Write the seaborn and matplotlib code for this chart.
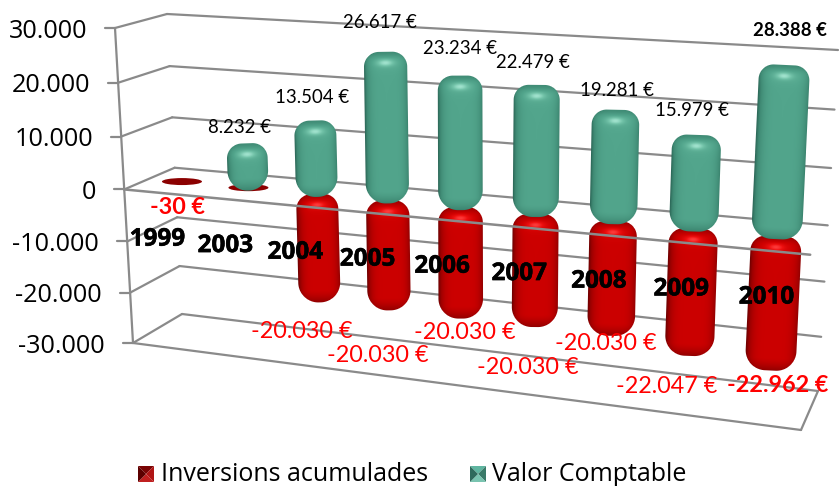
import numpy as np
import matplotlib
matplotlib.use("Agg")
import matplotlib.pyplot as plt
import matplotlib.patheffects as pe
from matplotlib.patches import Ellipse
import seaborn as sns

years = ["1999", "2003", "2004", "2005", "2006", "2007", "2008", "2009", "2010"]
inversions = [-30, -30, -20030, -20030, -20030, -20030, -20030, -22047, -22962]
valor = [0, 8232, 13504, 26617, 23234, 22479, 19281, 15979, 28388]
ticks = [30000, 20000, 10000, 0, -10000, -20000, -30000]
tick_labels = ["30.000", "20.000", "10.000", "0", "-10.000", "-20.000", "-30.000"]

inv_labels = ["-30 €", None, "-20.030 €", "-20.030 €", "-20.030 €", "-20.030 €", "-20.030 €", "-22.047 €", "-22.962 €"]
val_labels = [None, "8.232 €", "13.504 €", "26.617 €", "23.234 €", "22.479 €", "19.281 €", "15.979 €", "28.388 €"]
# label centres were moved by hand in the original
inv_label_xy = [(177, 207), None, (302, 331), (378, 355), (465, 332), (528, 367), (606, 343), (667, 386), (778, 385)]
val_label_xy = [None, (240, 127), (312, 97), (380, 22), (460, 49), (533, 62), (617, 90), (692, 110), (790, 31)]

W, H = 839, 486
GRID = "#8a8a8a"
FONT = "Lato"

sns.set_theme(style="white")
plt.rcParams["font.family"] = [FONT, "DejaVu Sans"]

green_cmap = sns.blend_palette(["#24584b", "#3f8a74", "#52a58c", "#74c4aa", "#a6e6d2"], as_cmap=True)
red_cmap = sns.blend_palette(["#5a0000", "#9c0000", "#cc0000", "#ee1010", "#ff4040"], as_cmap=True)


def homography(src, dst):
    A, b = [], []
    for (x, y), (u, v) in zip(src, dst):
        A.append([x, y, 1, 0, 0, 0, -u * x, -u * y])
        A.append([0, 0, 0, x, y, 1, -v * x, -v * y])
        b += [u, v]
    return np.append(np.linalg.solve(np.array(A, float), np.array(b, float)), 1).reshape(3, 3)


unit = [(0, 1), (0, -1), (1, 1), (1, -1)]
FRONT = homography(unit, [(115, 28), (133, 343), (820, 69), (801, 430)])
BACK = homography(unit, [(167, 14), (182, 314), (838, 50), (818, 391)])


def wall(M, s, v):
    p = M @ np.array([s, v / 30000, 1.0])
    return p[:2] / p[2]


def project(s, v, depth=0.5):
    return (1 - depth) * wall(FRONT, s, v) + depth * wall(BACK, s, v)


def seg(ax, a, b, lw=1.6, z=1):
    sns.lineplot(x=[a[0], b[0]], y=[a[1], b[1]], ax=ax, color=GRID, linewidth=lw,
                 sort=False, errorbar=None, zorder=z, legend=False)


def capsule(ax, top, bottom, w, cmap, z):
    # shaded rounded cylinder, computed per pixel along the column axis
    L = np.hypot(*(bottom - top))
    e = (bottom - top) / L
    n = np.array([e[1], -e[0]])
    x0, x1 = int(min(top[0], bottom[0]) - w - 3), int(max(top[0], bottom[0]) + w + 4)
    y0, y1 = int(top[1] - 3), int(bottom[1] + 4)
    xx, yy = np.meshgrid(np.arange(x0, x1) + 0.5, np.arange(y0, y1) + 0.5)
    dx, dy = xx - top[0], yy - top[1]
    t = dx * e[0] + dy * e[1]
    u = -(dx * n[0] + dy * n[1])
    # bottom corners are rounder than the top ones
    r = np.where(t < L / 2, min(15, L / 2), min(20, L / 2))
    qx = np.abs(u) - (w - r)
    qy = np.abs(t - L / 2) - (L / 2 - r)
    d = np.hypot(np.maximum(qx, 0), np.maximum(qy, 0)) + np.minimum(np.maximum(qx, qy), 0) - r
    U = np.clip(u / w, -1, 1)
    shade = 0.5 - 0.30 * np.abs(U) ** 5 - 0.14 * np.clip(U, 0, 1) ** 3
    shade += 0.42 * np.exp(-((u / 8) ** 2 + ((t - 11) / 3.5) ** 2))
    shade -= 0.24 * np.exp(-((t / 5) ** 2))
    shade += 0.05 * np.exp(-(((t - 11) / 9) ** 2))
    shade -= 0.30 * np.clip(1 - (L - t) / 13, 0, 1) ** 1.5
    img = cmap(np.clip(shade, 0, 1))
    img[..., 3] = np.clip(0.5 - d, 0, 1)
    ax.imshow(img, extent=(x0, x1, y1, y0), aspect="auto", zorder=z, interpolation="nearest")


def pyramid(ax, x, y, size, colors):
    c = (x + size / 2, y + size / 2)
    corners = [(x, y), (x + size, y), (x + size, y + size), (x, y + size)]
    for i, col in enumerate(colors):
        tri = [corners[i], corners[(i + 1) % 4], c]
        ax.fill([p[0] for p in tri], [p[1] for p in tri], color=col, lw=0, zorder=5)


fig = plt.figure(figsize=(W / 100, H / 100), dpi=100)
ax = fig.add_axes([0, 0, 1, 1])

# walls and floor
for v, lab in zip(ticks, tick_labels):
    f, bl, br = wall(FRONT, 0, v), wall(BACK, 0, v), wall(BACK, 1, v)
    seg(ax, f, bl)
    seg(ax, bl, br)
    seg(ax, f - [10, 0], f)
    ax.text(f[0] - 28, f[1] + 3, lab, ha="right", va="center", fontsize=18.2,
            family="Open Sans", color="black", zorder=6)
seg(ax, wall(FRONT, 0, 30000), wall(FRONT, 0, -30000))
seg(ax, wall(FRONT, 0, -30000), wall(FRONT, 1, -30000))
seg(ax, wall(FRONT, 1, -30000), wall(BACK, 1, -30000))

n_cat = len(years)
# red columns, then the zero axis, then the green ones
for i, v in enumerate(inversions):
    s = (i + 0.5) / n_cat
    base = project(s, 0)
    if abs(v) < 1000:
        ax.add_patch(Ellipse(base, 40, 7, color="#8b0000", lw=0, zorder=2))
    else:
        w = np.hypot(*(project(s + 0.3 / n_cat, 0) - project(s - 0.3 / n_cat, 0))) / 2
        capsule(ax, base, project(s, v) + [0, 4], w, red_cmap, 2)

seg(ax, wall(FRONT, 0, 0), wall(FRONT, 1, 0), lw=1.8, z=3)
for i in range(1, n_cat + 1):
    p = wall(FRONT, i / n_cat, 0)
    seg(ax, p, p + [0, 8], lw=2, z=3)

for i, v in enumerate(valor):
    if v == 0:
        continue
    s = (i + 0.5) / n_cat
    w = np.hypot(*(project(s + 0.3 / n_cat, 0) - project(s - 0.3 / n_cat, 0))) / 2
    capsule(ax, project(s, v) - [0, 1], project(s, 0) + [0, 3], w, green_cmap, 4)

# texts
for i, y in enumerate(years):
    p = wall(FRONT, (i + 0.5) / n_cat, 0)
    ax.text(p[0], p[1] + 47, y, ha="center", va="center", fontsize=17.5, fontweight="bold", color="black",
            family="Open Sans", zorder=7, path_effects=[pe.withStroke(linewidth=0.4, foreground="black")])

for i, (lab, xy) in enumerate(zip(val_labels, val_label_xy)):
    if lab:
        ax.text(xy[0], xy[1], lab, ha="center", va="center", fontsize=13.4, color="black",
                fontweight="bold" if i == n_cat - 1 else "normal", zorder=7)

for i, (lab, xy) in enumerate(zip(inv_labels, inv_label_xy)):
    if lab:
        ax.text(xy[0], xy[1], lab, ha="center", va="center", fontsize=16.8, color="#ff0000",
                fontweight="bold" if i in (0, n_cat - 1) else "normal", zorder=7)

# legend
pyramid(ax, 138, 466, 16, ["#7a0505", "#b01515", "#c02020", "#5c0000"])
ax.text(161, 474, "Inversions acumulades", ha="left", va="center", fontsize=18, family="Open Sans", color="black")
pyramid(ax, 470, 466, 16, ["#5fb5a0", "#3a7a68", "#79c4b0", "#2f6a5c"])
ax.text(492, 474, "Valor Comptable", ha="left", va="center", fontsize=18, family="Open Sans", color="black")

ax.set_xlim(0, W)
ax.set_ylim(H, 0)
ax.axis("off")
fig.savefig("out.png", dpi=100, facecolor="white")
